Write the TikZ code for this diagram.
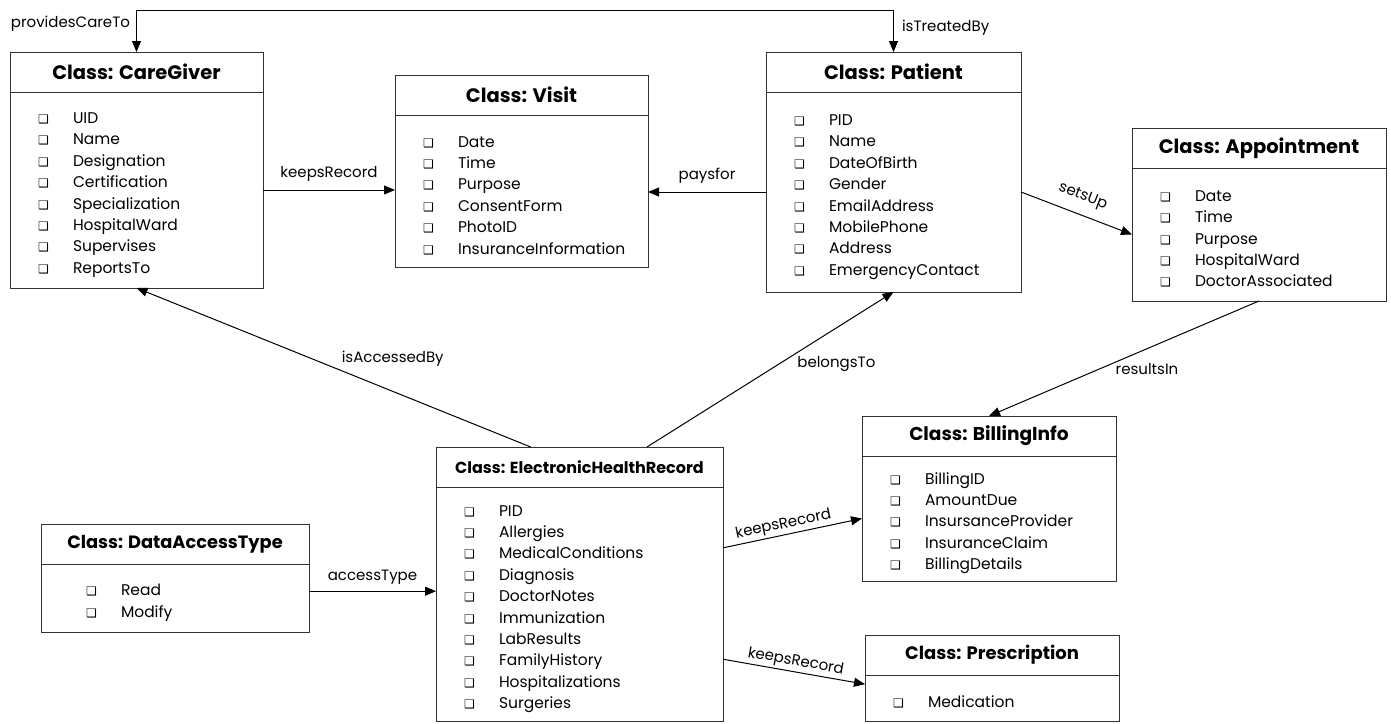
\documentclass[tikz,border=0pt]{standalone}
\usepackage{fontspec}
\setmainfont{Poppins}
\newfontfamily\symfont{DejaVu Sans}
\usetikzlibrary{positioning,calc,arrows.meta}

\newcommand{\headfont}{\bfseries\fontsize{19.5}{22}\selectfont}
\newcommand{\itemfont}{\fontsize{15.5}{21.4}\selectfont}
\newcommand{\lblfont}{\fontsize{15}{17}\selectfont}
\newcommand{\bx}{{\symfont\fontsize{12}{12}\selectfont ❑}}
\newcommand{\attr}[1]{\rule[-2pt]{0pt}{17pt}\makebox[35pt][l]{\bx}#1}

\tikzset{
  head/.style={draw=black!80, line width=1pt, outer sep=0pt, inner sep=0pt,
    minimum height=40pt, font=\headfont},
  body/.style={draw=black!80, line width=1pt, outer sep=0pt, inner ysep=0pt,
    inner xsep=28pt, align=left, font=\itemfont,
    execute at begin node={\rule{0pt}{21pt}}},
  lbl/.style={font=\lblfont, inner sep=2pt},
  >={Triangle[length=11pt,width=9pt]},
}

\begin{document}
\begin{tikzpicture}[x=1pt,y=-1pt,line width=1pt]
\useasboundingbox (0,0) rectangle (1391,723);

% Class boxes: title on top, attribute list below
\node [head, minimum width=253pt, anchor=north west] (cg-t) at (10,52) {Class: CareGiver};
\node [body, text width=197pt, minimum height=196pt, below=0pt of cg-t] (cg)
  {\attr{UID}\\ \attr{Name}\\ \attr{Designation}\\ \attr{Certification}\\
   \attr{Specialization}\\ \attr{HospitalWard}\\ \attr{Supervises}\\ \attr{ReportsTo}};

\node [head, minimum width=253pt, anchor=north west] (vis-t) at (395,75) {Class: Visit};
\node [body, text width=197pt, minimum height=152pt, below=0pt of vis-t] (vis)
  {\attr{Date}\\ \attr{Time}\\ \attr{Purpose}\\ \attr{ConsentForm}\\
   \attr{PhotoID}\\ \attr{InsuranceInformation}};

\node [head, minimum width=255pt, anchor=north west] (pat-t) at (766,52) {Class: Patient};
\node [body, text width=199pt, minimum height=200pt, below=0pt of pat-t] (pat)
  {\attr{PID}\\ \attr{Name}\\ \attr{DateOfBirth}\\ \attr{Gender}\\
   \attr{EmailAddress}\\ \attr{MobilePhone}\\ \attr{Address}\\ \attr{EmergencyContact}};

\node [head, minimum width=254pt, anchor=north west] (app-t) at (1132,128) {Class: Appointment};
\node [body, text width=198pt, minimum height=133pt, below=0pt of app-t] (app)
  {\attr{Date}\\ \attr{Time}\\ \attr{Purpose}\\ \attr{HospitalWard}\\ \attr{DoctorAssociated}};

\node [head, minimum width=254pt, anchor=north west, font=\bfseries\fontsize{18.6}{22}\selectfont] (bil-t) at (862,416) {Class: BillingInfo};
\node [body, text width=198pt, minimum height=125pt, below=0pt of bil-t] (bil)
  {\attr{BillingID}\\ \attr{AmountDue}\\ \attr{InsursanceProvider}\\
   \attr{InsuranceClaim}\\ \attr{BillingDetails}};

\node [head, minimum width=254pt, anchor=north west, font=\bfseries\fontsize{18}{22}\selectfont] (pre-t) at (865,635) {Class: Prescription};
\node [body, text width=198pt, minimum height=46pt, below=0pt of pre-t] (pre)
  {\attr{Medication}};

\node [head, minimum width=268pt, anchor=north west, font=\bfseries\fontsize{17.8}{22}\selectfont] (dat-t) at (41,524) {Class: DataAccessType};
\node [body, inner xsep=45pt, text width=178pt, minimum height=68pt, below=0pt of dat-t] (dat)
  {\attr{Read}\\ \attr{Modify}};

\node [head, minimum width=287pt, anchor=north west, font=\bfseries\fontsize{16}{20}\selectfont] (ehr-t) at (436,447) {Class: ElectronicHealthRecord};
\node [body, text width=231pt, minimum height=234pt, below=0pt of ehr-t] (ehr)
  {\attr{PID}\\ \attr{Allergies}\\ \attr{MedicalConditions}\\ \attr{Diagnosis}\\
   \attr{DoctorNotes}\\ \attr{Immunization}\\ \attr{LabResults}\\ \attr{FamilyHistory}\\
   \attr{Hospitalizations}\\ \attr{Surgeries}};

% End points on the box sides
\coordinate (ehr-acc) at ($(ehr-t.north west)!0.33!(ehr-t.north east)$);
\coordinate (ehr-bel) at ($(ehr-t.north west)!0.735!(ehr-t.north east)$);
\coordinate (dat-out) at ($(dat.north east)!0.4!(dat.south east)$);
\coordinate (ehr-bil) at ($(ehr.north east)!0.26!(ehr.south east)$);
\coordinate (ehr-pre) at ($(ehr.north east)!0.736!(ehr.south east)$);
\coordinate (pre-in) at ($(pre.north west)!0.2!(pre.south west)$);

% Line across the top, arrows at both ends
\draw [<->] (cg-t.north) -- ++(0,-42) node[lbl, pos=0.67, left, xshift=-4pt] (l-care) {providesCareTo}
  -| (pat-t.north) node[lbl, pos=0.71, right, xshift=6pt] (l-treat) {isTreatedBy};

% Relations between the classes
\draw [->] (cg.east) -- (cg.east -| vis.west) node[lbl, midway, above=6pt] (l-keep1) {keepsRecord};
\draw [->] (pat.west) -- (pat.west -| vis.east) node[lbl, midway, above=6pt] (l-pays) {paysfor};
\draw [->] (pat.east) -- (app.west) node[lbl, midway, sloped, above=8pt] (l-sets) {setsUp};
\draw [->] (ehr-acc) -- (cg.south) node[lbl, pos=0.35, above=22pt] (l-acc) {isAccessedBy};
\draw [->] (ehr-bel) -- (pat.south) node[lbl, pos=0.535, right=16pt] (l-bel) {belongsTo};
\draw [->] (app.south) -- (bil-t.north) node[lbl, pos=0.54, right, yshift=-6pt] (l-res) {resultsIn};
\draw [->] (dat-out) -- (dat-out -| ehr.west) node[lbl, midway, above=4pt] (l-acc2) {accessType};
\draw [->] (ehr-bil) -- (bil.west) node[lbl, pos=0.45, sloped, above] (l-keep2) {keepsRecord};
\draw [->] (ehr-pre) -- (pre-in) node[lbl, midway, sloped, above] (l-keep3) {keepsRecord};

\end{tikzpicture}
\end{document}
